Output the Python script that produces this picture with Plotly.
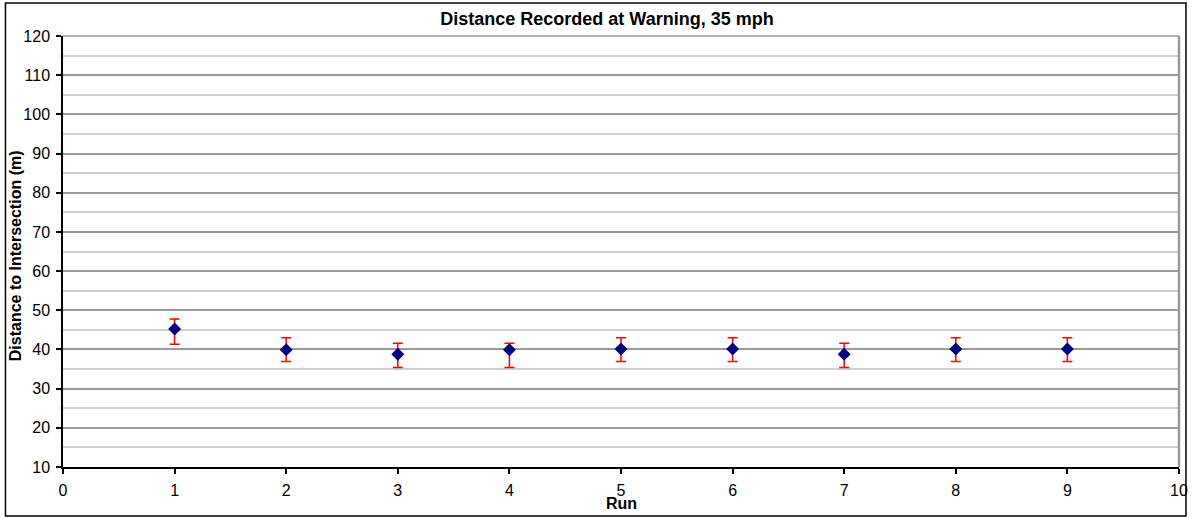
import plotly.graph_objects as go

# Measured warning distances per run (m) with asymmetric error ranges
runs = [1, 2, 3, 4, 5, 6, 7, 8, 9]
distance = [45.2, 39.9, 38.8, 39.9, 40.1, 40.1, 38.8, 40.1, 40.1]
err_plus = [2.6, 3.1, 2.8, 1.7, 2.9, 2.9, 2.8, 2.9, 2.9]
err_minus = [3.9, 3.0, 3.4, 4.5, 3.2, 3.2, 3.4, 3.2, 3.2]

x_ticks = list(range(0, 11))
y_ticks = list(range(10, 121, 10))

FONT = "Liberation Sans, Arial, sans-serif"

fig = go.Figure()
fig.add_trace(go.Scatter(
    x=runs, y=distance, mode="markers",
    marker=dict(symbol="diamond", size=10, color="#000080",
                line=dict(width=0)),
    error_y=dict(type="data", symmetric=False, array=err_plus,
                 arrayminus=err_minus, color="#ff0000",
                 thickness=1.5, width=5),
    showlegend=False,
))

fig.update_layout(
    width=1199, height=518,
    margin=dict(l=63, r=11, t=36, b=51),
    paper_bgcolor="white", plot_bgcolor="white",
    font=dict(family=FONT, size=16, color="black"),
    title=dict(text="<b>Distance Recorded at Warning, 35 mph</b>",
               x=607 / 1199, xref="container", xanchor="center",
               y=1 - 19 / 518, yref="container", yanchor="middle",
               font=dict(family=FONT, size=18, color="black")),
    xaxis=dict(range=[0, 10], tickvals=x_ticks, showgrid=False,
               zeroline=False, showline=True, linecolor="black",
               linewidth=1.5, ticks="outside", ticklen=5,
               tickcolor="black", tickwidth=1.5, ticklabelstandoff=3,
               tickfont=dict(family=FONT, size=16)),
    yaxis=dict(range=[10, 120], tickvals=y_ticks, showgrid=True,
               gridcolor="#9a9a9a", gridwidth=1.5, zeroline=False,
               showline=True, linecolor="black", linewidth=1.5,
               ticks="outside", ticklen=5, tickcolor="black",
               tickwidth=1.5, ticklabelstandoff=3,
               tickfont=dict(family=FONT, size=16),
               minor=dict(tickvals=list(range(15, 120, 10)),
                          showgrid=True, gridcolor="#cfcfcf",
                          gridwidth=1.5, ticks="")),
    annotations=[
        dict(text="<b>Distance to Intersection (m)</b>", textangle=-90,
             x=(15 - 63) / 1125, y=0.49, xref="paper", yref="paper",
             xanchor="center", yanchor="middle", showarrow=False,
             font=dict(family=FONT, size=16)),
        dict(text="<b>Run</b>", x=0.5, y=(467 - 503) / 431,
             xref="paper", yref="paper", xanchor="center",
             yanchor="middle", showarrow=False,
             font=dict(family=FONT, size=16)),
    ],
    shapes=[
        # grey frame on the top and right of the plotting area
        dict(type="line", xref="paper", yref="paper", x0=0, x1=1, y0=1, y1=1,
             line=dict(color="#9a9a9a", width=1.5), layer="below"),
        dict(type="line", xref="paper", yref="paper", x0=1, x1=1, y0=0, y1=1,
             line=dict(color="#9a9a9a", width=2.5), layer="above"),
        # outer chart border
        dict(type="rect", xref="paper", yref="paper",
             x0=(5 - 63) / 1125, x1=(1195 - 63) / 1125,
             y0=(467 - 516) / 431, y1=(467 - 3) / 431,
             line=dict(color="black", width=1.5)),
    ],
)

fig.write_html("out.html")
